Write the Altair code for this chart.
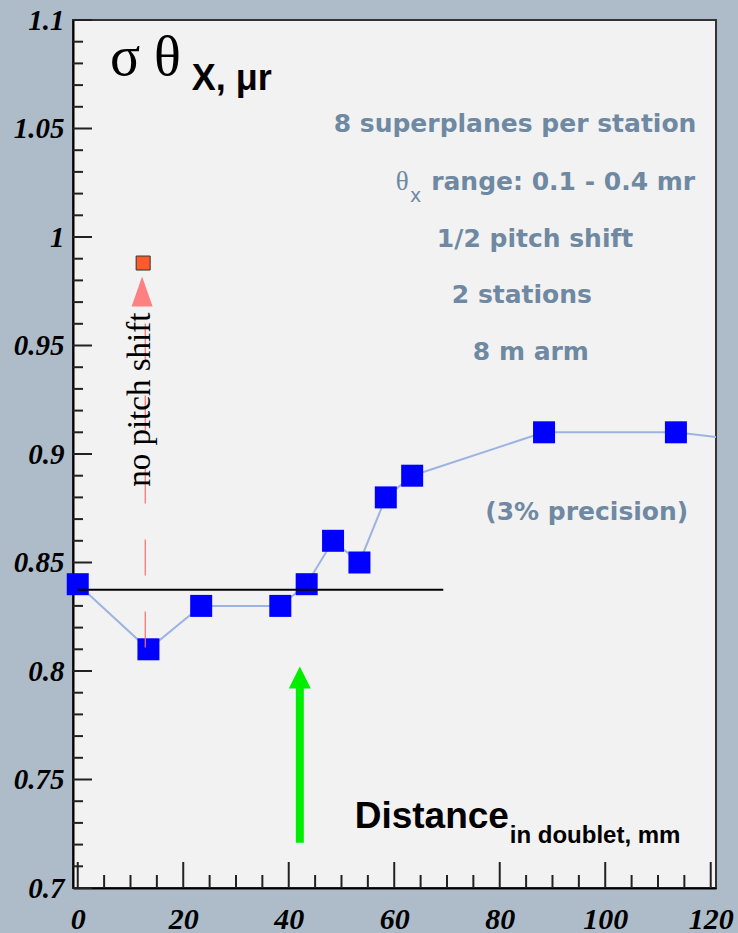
import altair as alt
import pandas as pd

# Angular resolution versus doublet distance (1/2 pitch shift)
distance = [0, 13.4, 23.4, 38.4, 43.4, 48.4, 53.4, 58.4, 63.4, 88.4, 113.4, 138.4]
sigma = [0.84, 0.81, 0.83, 0.83, 0.84, 0.86, 0.85, 0.88, 0.89, 0.91, 0.91, 0.903]

# Same setup without pitch shift
noshift_distance = [12.4]
noshift_sigma = [0.988]

# Reference level and chosen distance
reference_level = 0.8375
reference_end = 69.3
chosen_distance = 42.1

# Axis ticks
x_major = [0, 20, 40, 60, 80, 100, 120]
x_minor = [v for v in range(0, 125, 5) if v % 20]
y_major = [0.7, 0.75, 0.8, 0.85, 0.9, 0.95, 1.0, 1.05, 1.1]
y_minor = [round(0.7 + 0.01 * i, 2) for i in range(41) if i % 5]

W, H = 643, 868
X_MIN, X_MAX = -0.9, 121
Y_MIN, Y_MAX = 0.7, 1.1
xs = alt.Scale(domain=[X_MIN, X_MAX], nice=False, zero=False)
ys = alt.Scale(domain=[Y_MIN, Y_MAX], nice=False, zero=False)
PX_X = W / (X_MAX - X_MIN)   # pixels per x unit
PX_Y = H / (Y_MAX - Y_MIN)   # pixels per y unit

GRAY = "#6f89a2"
SERIF = "Liberation Serif"
SANS = "Liberation Sans"

main = pd.DataFrame({"d": distance, "s": sigma})

x_axis = alt.Axis(values=x_major, ticks=False, tickSize=0, grid=False, title="",
                  labelFont=SERIF, labelFontWeight="bold", labelFontStyle="italic",
                  labelFontSize=30, labelColor="black", labelPadding=16,
                  domainColor="black", domainWidth=2, labelFlush=False)
y_axis = alt.Axis(values=y_major, ticks=False, tickSize=0, grid=False, title="",
                  format="~g", labelFont=SERIF, labelFontWeight="bold",
                  labelFontStyle="italic", labelFontSize=29, labelColor="black",
                  labelPadding=9, domainColor="black", domainWidth=2, labelFlush=False)

curve = alt.Chart(main).mark_line(color="#9db3e2", strokeWidth=2, clip=True).encode(
    x=alt.X("d:Q", scale=xs, axis=x_axis),
    y=alt.Y("s:Q", scale=ys, axis=y_axis),
)
squares = alt.Chart(main).mark_square(size=484, color="#0000ff", opacity=1).encode(
    x=alt.X("d:Q", scale=xs), y=alt.Y("s:Q", scale=ys)
)

# Inner ticks drawn from the axes into the frame
ytick_df = pd.DataFrame({
    "yv": y_major + y_minor,
    "xa": X_MIN,
    "xb": [X_MIN + 19 / PX_X] * len(y_major) + [X_MIN + 10 / PX_X] * len(y_minor),
})
xtick_df = pd.DataFrame({
    "xv": x_major + x_minor,
    "ya": Y_MIN,
    "yb": [Y_MIN + 26 / PX_Y] * len(x_major) + [Y_MIN + 13 / PX_Y] * len(x_minor),
})
ytick_layer = alt.Chart(ytick_df).mark_rule(color="#222222", strokeWidth=2).encode(
    x=alt.X("xa:Q", scale=xs), x2="xb:Q", y=alt.Y("yv:Q", scale=ys))
xtick_layer = alt.Chart(xtick_df).mark_rule(color="#222222", strokeWidth=2).encode(
    x=alt.X("xv:Q", scale=xs), y=alt.Y("ya:Q", scale=ys), y2="yb:Q")

ref = pd.DataFrame({"x0": [0], "x1": [reference_end], "y": [reference_level]})
ref_line = alt.Chart(ref).mark_rule(color="black", strokeWidth=2).encode(
    x=alt.X("x0:Q", scale=xs), x2="x1:Q", y=alt.Y("y:Q", scale=ys))

noshift = pd.DataFrame({"d": noshift_distance, "s": noshift_sigma})
dash = pd.DataFrame({"x": [12.8], "y0": [0.8108], "y1": [0.968]})
dash_line = alt.Chart(dash).mark_rule(color="#ff6a6a", strokeWidth=1.2, strokeDash=[36, 36]).encode(
    x=alt.X("x:Q", scale=xs), y=alt.Y("y0:Q", scale=ys), y2="y1:Q")
pink_head = alt.Chart(pd.DataFrame({"x": [12.2], "y": [0.9749]})).mark_point(
    shape="M0,-1.43L1,1.43L-1,1.43Z", filled=True, size=441, color="#ff8080", opacity=1
).encode(x=alt.X("x:Q", scale=xs), y=alt.Y("y:Q", scale=ys))
orange = alt.Chart(noshift).mark_square(size=196, color="#ff5a2a", stroke="#333", strokeWidth=1, opacity=1).encode(
    x=alt.X("d:Q", scale=xs), y=alt.Y("s:Q", scale=ys))

green = pd.DataFrame({"x": [chosen_distance], "y0": [0.7209], "y1": [0.794]})
green_shaft = alt.Chart(green).mark_rule(color="#00ee00", strokeWidth=8, strokeCap="butt").encode(
    x=alt.X("x:Q", scale=xs), y=alt.Y("y0:Q", scale=ys), y2="y1:Q")
green_head = alt.Chart(pd.DataFrame({"x": [chosen_distance], "y": [0.797]})).mark_point(
    shape="M0,-1L1,1L-1,1Z", filled=True, size=484, color="#00ee00", opacity=1
).encode(x=alt.X("x:Q", scale=xs), y=alt.Y("y:Q", scale=ys))


def label(text, x, y, **style):
    return alt.Chart(pd.DataFrame({"x": [x], "y": [y], "t": [text]})).mark_text(
        baseline="alphabetic", **style
    ).encode(x=alt.X("x:Q", scale=xs), y=alt.Y("y:Q", scale=ys), text="t:N")


texts = [
    label("σ θ", 6.1, 1.0748, align="left", font=SERIF, fontSize=56, color="black"),
    label("X, μr", 21.6, 1.0679, align="left", font=SANS, fontWeight="bold", fontSize=36, color="black"),
    label("8 superplanes per station", 82.9, 1.0485, align="center", font="DejaVu Sans",
          fontWeight="bold", fontSize=25, color=GRAY),
    label("θ", 60.3, 1.0218, align="left", font=SERIF, fontSize=27, color=GRAY),
    label("x", 63.0, 1.0163, align="left", font="DejaVu Sans", fontSize=19, color=GRAY),
    label("range: 0.1 - 0.4 mr", 67.0, 1.0218, align="left", font="DejaVu Sans",
          fontWeight="bold", fontSize=25, color=GRAY),
    label("1/2 pitch shift", 86.7, 0.9955, align="center", font="DejaVu Sans",
          fontWeight="bold", fontSize=25, color=GRAY),
    label("2 stations", 84.2, 0.9698, align="center", font="DejaVu Sans",
          fontWeight="bold", fontSize=25, color=GRAY),
    label("8 m arm", 85.9, 0.9435, align="center", font="DejaVu Sans",
          fontWeight="bold", fontSize=25, color=GRAY),
    label("(3% precision)", 96.5, 0.8698, align="center", font="DejaVu Sans",
          fontWeight="bold", fontSize=25, color=GRAY),
    label("Distance", 52.5, 0.7278, align="left", font=SANS, fontWeight="bold",
          fontSize=37, color="black"),
    label("in doublet, mm", 81.9, 0.7209, align="left", font=SANS, fontWeight="bold",
          fontSize=24, color="black"),
]

rot = alt.Chart(pd.DataFrame({"x": [11.8], "y": [0.925], "t": ["no pitch shift"]})).mark_text(
    angle=270, align="center", baseline="middle", font=SERIF, fontSize=33, color="black"
).encode(x=alt.X("x:Q", scale=xs), y=alt.Y("y:Q", scale=ys), text="t:N")

chart = alt.layer(
    curve, ytick_layer, xtick_layer,
    squares, ref_line, dash_line, pink_head, orange, green_shaft, green_head,
    *texts, rot,
).properties(
    width=W, height=H,
    background="#aebcc9",
    autosize=alt.AutoSizeParams(type="none"),
    padding={"left": 73, "top": 20, "right": 22, "bottom": 45},
).configure_view(fill="#f2f2f2", stroke="#333", strokeWidth=2)

chart.save("out.html", embed_options={"renderer": "svg", "actions": False})
